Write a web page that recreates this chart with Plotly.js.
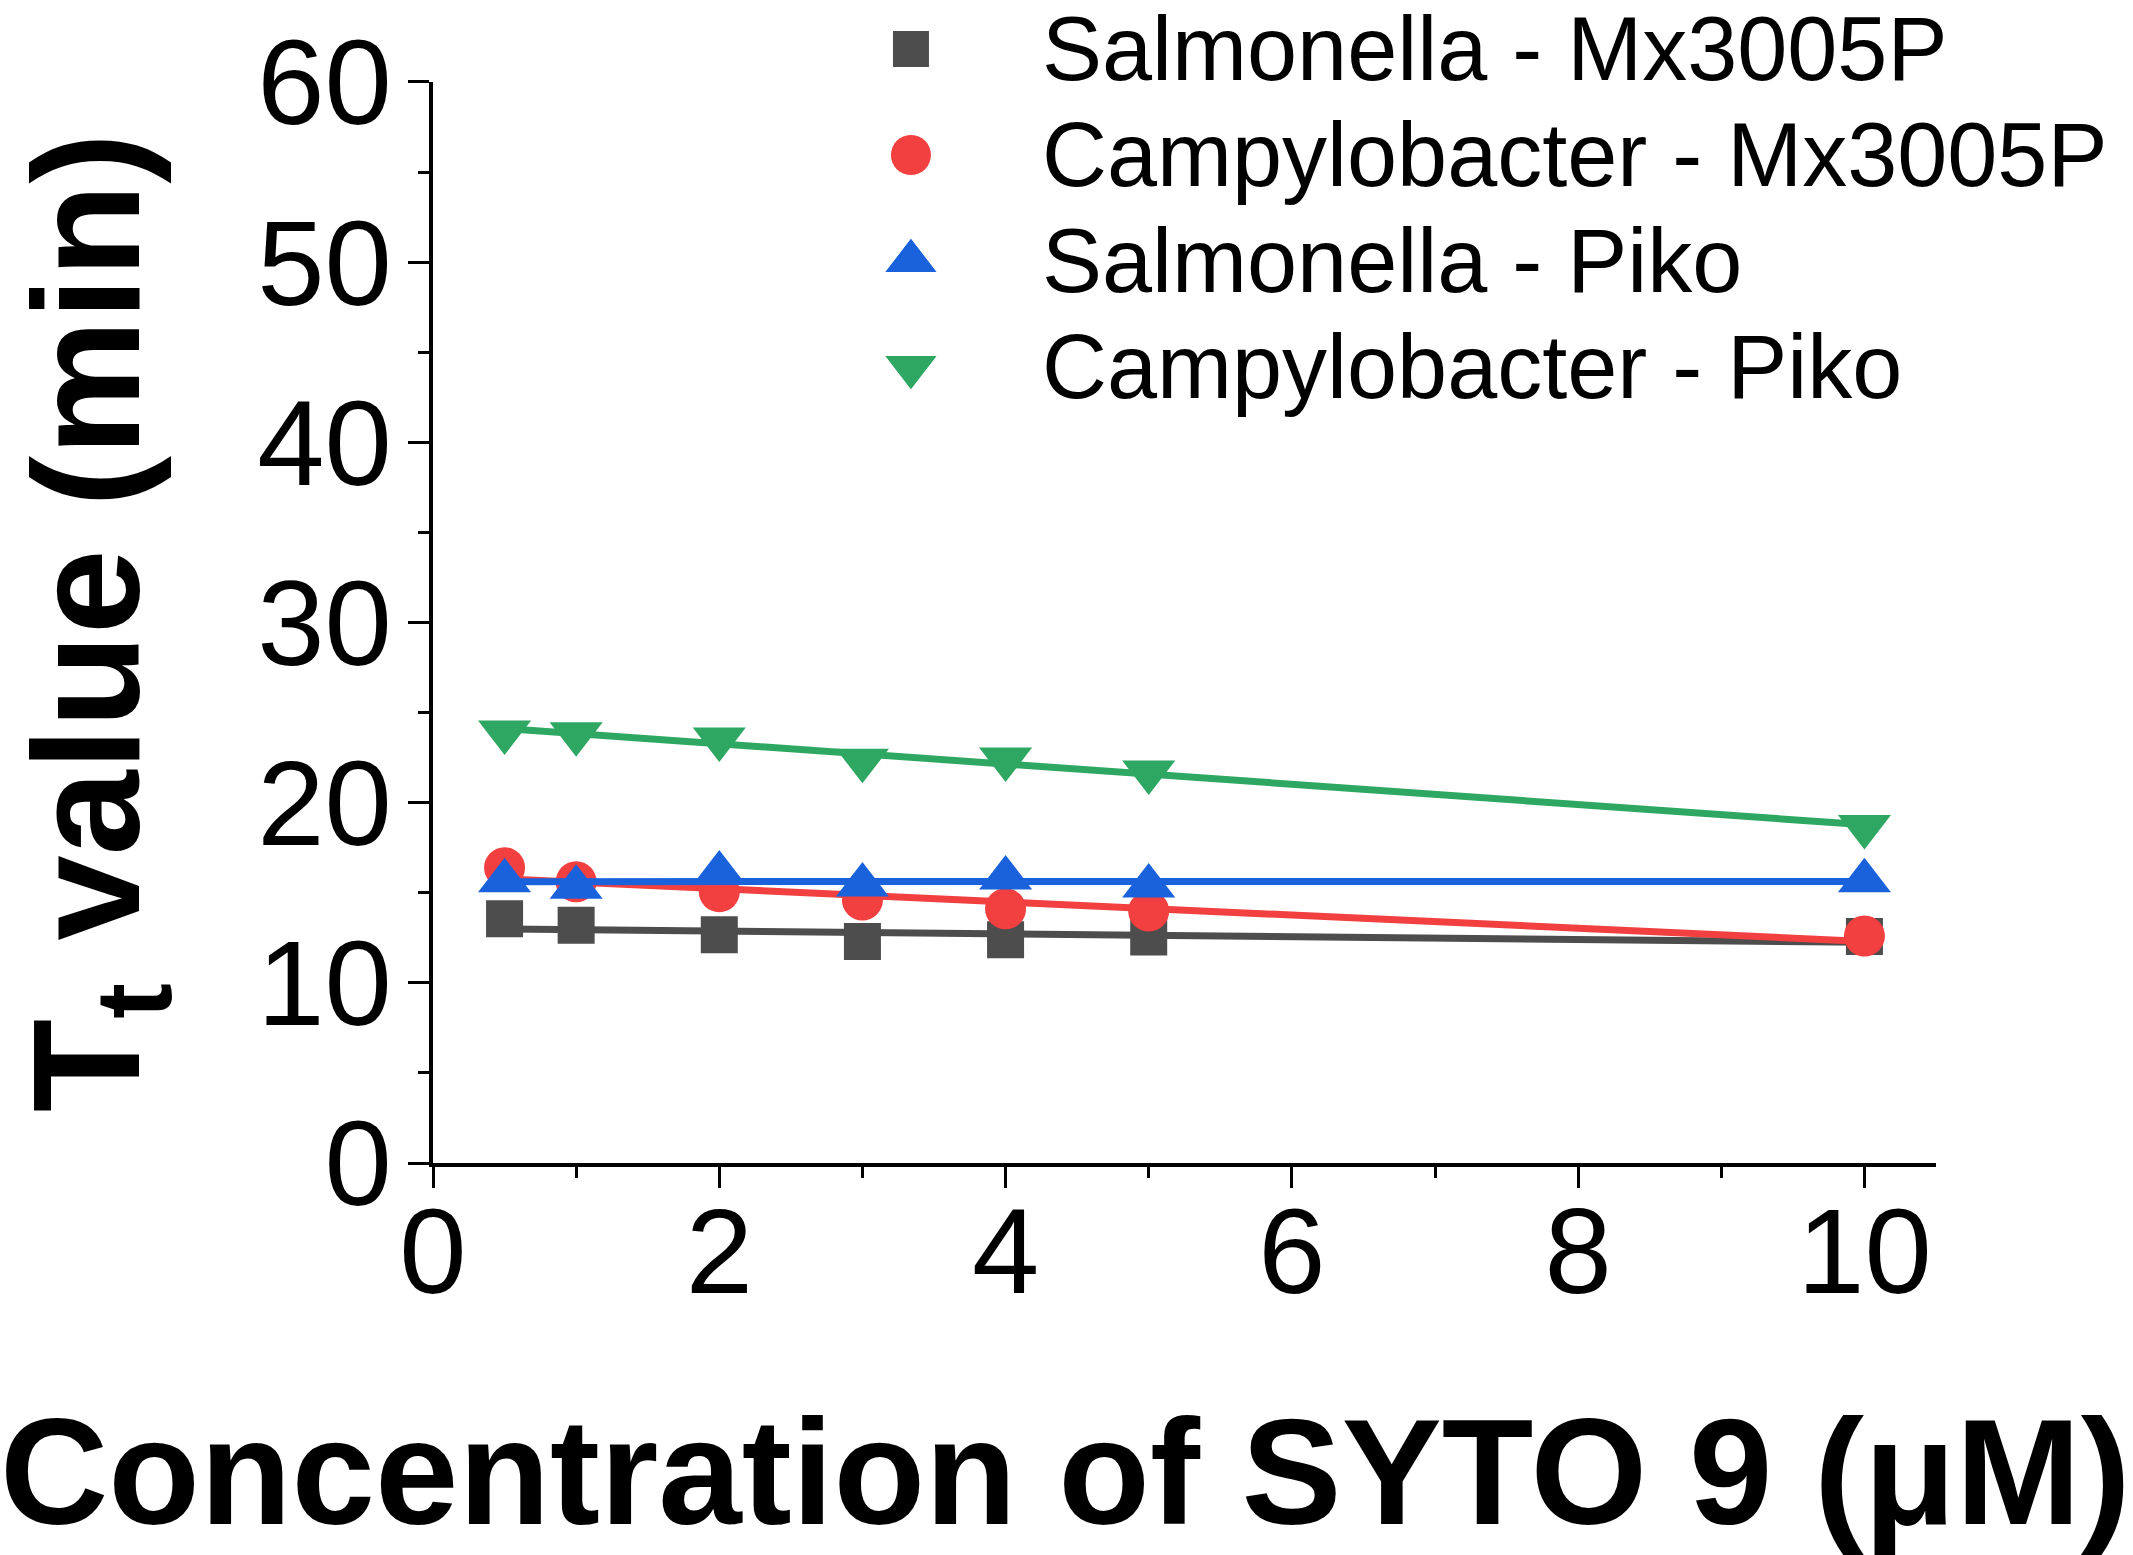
<!DOCTYPE html>
<html>
<head>
<meta charset="utf-8">
<script src="https://cdn.plot.ly/plotly-3.0.1.min.js"></script>
<style>body { margin: 0; background: #fff; }</style>
</head>
<body>
<div id="chart" style="width:2133px;height:1555px"></div>
<script>
// SYTO 9 concentration (uM)
const conc = [0.5, 1, 2, 3, 4, 5, 10];

const series_names = ["Salmonella - Mx3005P", "Campylobacter - Mx3005P", "Salmonella - Piko", "Campylobacter - Piko"];

// Tt values (min)
const salm_mx = [13.56, 13.19, 12.67, 12.30, 12.39, 12.54, 12.57];
const campy_mx = [16.39, 15.61, 15.06, 14.60, 14.11, 13.98, 12.60];
const salm_piko = [15.67, 15.30, 16.09, 15.43, 15.82, 15.37, 15.67];
const campy_piko = [23.92, 23.83, 23.53, 22.35, 22.42, 21.70, 18.67];

const colors = ["#4d4d4d", "#f23f3f", "#1a62dc", "#2ea763"];
const symbols = ["square", "circle", "triangle-up", "triangle-down"];
const sizes = [37, 41, 46, 46];

const font = "Arial, 'Liberation Sans', sans-serif";

// straight line fit, drawn from first to last x
function lin_fit(xs, ys) {
    const n = xs.length
    const mx = xs.reduce((a, b) => a + b) / n
    const my = ys.reduce((a, b) => a + b) / n
    let sxy = 0, sxx = 0
    for (let i = 0; i < n; i++) {
        sxy += (xs[i] - mx) * (ys[i] - my)
        sxx += (xs[i] - mx) * (xs[i] - mx)
    }
    const k = sxy / sxx
    const x0 = Math.min(...xs), x1 = Math.max(...xs)
    return { x: [x0, x1], y: [my + k * (x0 - mx), my + k * (x1 - mx)] }
}

const all_y = [salm_mx, campy_mx, salm_piko, campy_piko];
var traces = []
all_y.forEach(function (ys, i) {
    const fit = lin_fit(conc, ys)
    traces.push({
        x: fit.x, y: fit.y, mode: 'lines', type: 'scatter',
        line: { color: colors[i], width: 7 },
        showlegend: false, hoverinfo: 'skip'
    })
    traces.push({
        x: conc, y: ys, mode: 'markers', type: 'scatter', name: series_names[i],
        marker: { symbol: symbols[i], color: colors[i], size: sizes[i], opacity: 1 },
        showlegend: false
    })
})

// legend drawn on its own hidden axes so the symbols can be big
const rows = series_names.map((_, i) => i)
traces.push({
    x: rows.map(() => 0), y: rows, xaxis: 'x2', yaxis: 'y2',
    mode: 'markers', type: 'scatter', showlegend: false, hoverinfo: 'skip',
    cliponaxis: false,
    marker: { symbol: symbols, color: colors, size: sizes, opacity: 1 }
})
var legend_text = series_names.map(function (name, i) {
    return {
        text: name, xref: 'x2', yref: 'y2', x: 1, y: i,
        xanchor: 'left', yanchor: 'middle', showarrow: false,
        font: { family: font, size: 90, color: '#000' }
    }
})

const axis_common = {
    showline: true, linecolor: '#000', linewidth: 4,
    ticks: 'outside', ticklen: 21, tickwidth: 3, tickcolor: '#000',
    showgrid: false, zeroline: false,
    tickfont: { family: font, size: 121, color: '#000' }
}

var layout = {
    width: 2133, height: 1555,
    margin: { l: 433, r: 197, t: 0, b: 392 },
    paper_bgcolor: '#fff', plot_bgcolor: '#fff',
    showlegend: false,
    xaxis: Object.assign({}, axis_common, {
        range: [0, 10.5], dtick: 2, tick0: 0, ticklabelstandoff: -40,
        minor: { dtick: 1, ticks: 'outside', ticklen: 11, tickwidth: 3, tickcolor: '#000' }
    }),
    yaxis: Object.assign({}, axis_common, {
        range: [0, 60], dtick: 10, tick0: 0, domain: [0, 0.9295], ticklabelstandoff: -8,
        minor: { dtick: 5, ticks: 'outside', ticklen: 11, tickwidth: 3, tickcolor: '#000' },
        title: {
            text: 'T<sub>t</sub> value (min)', standoff: 166,
            font: { family: font, size: 153, color: '#000', weight: 'bold' }
        }
    }),
    xaxis2: { domain: [0, 1], anchor: 'y2', range: [-3.705, 7.946], visible: false, fixedrange: true },
    yaxis2: { domain: [0.5933, 1], anchor: 'x2', range: [4, -0.4623], visible: false, fixedrange: true },
    annotations: legend_text.concat([{
        text: 'Concentration of SYTO 9 (μM)',
        xref: 'paper', yref: 'paper', x: 0.4205, y: -0.2657,
        xanchor: 'center', yanchor: 'middle', showarrow: false,
        font: { family: font, size: 150, color: '#000', weight: 'bold' }
    }])
}

Plotly.newPlot('chart', traces, layout, { staticPlot: true, responsive: false });
</script>
</body>
</html>
